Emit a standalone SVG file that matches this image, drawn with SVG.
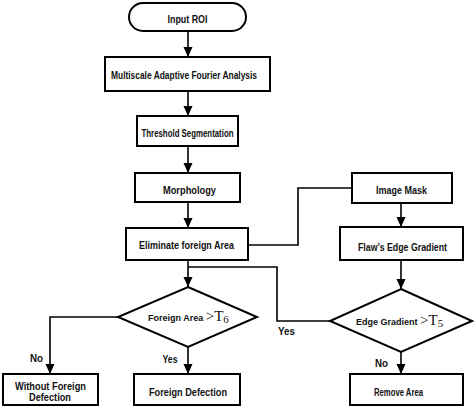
<svg xmlns="http://www.w3.org/2000/svg" width="474" height="407" viewBox="0 0 474 407">
<defs>
<marker id="arr" markerUnits="userSpaceOnUse" markerWidth="10" markerHeight="10" refX="10" refY="4.5" orient="auto">
<path d="M0,0 L10,4.5 L0,9 z" fill="#000"/>
</marker>
<style>
.box{fill:#fff;stroke:#000;stroke-width:2}
.ln{fill:none;stroke:#000;stroke-width:1.6}
.t{font-family:"Liberation Sans",Arial,sans-serif;font-weight:bold;font-size:10.5px;fill:#111;text-anchor:middle;dominant-baseline:central}
.lb{font-family:"Liberation Sans",Arial,sans-serif;font-weight:bold;font-size:10.5px;fill:#111;text-anchor:middle;dominant-baseline:central}
.d{font-family:"Liberation Sans",Arial,sans-serif;font-weight:bold;font-size:9px;fill:#111}
.s{font-family:"Liberation Serif","Times New Roman",serif;font-weight:normal;font-size:15px}
.sub{font-family:"Liberation Serif","Times New Roman",serif;font-weight:normal;font-size:11px}
</style>
</defs>
<rect width="474" height="407" fill="#fff"/>
<g id="connectors">
<path class="ln" d="M188,31 V57" marker-end="url(#arr)"/>
<path class="ln" d="M188,91 V116" marker-end="url(#arr)"/>
<path class="ln" d="M188,146 V173" marker-end="url(#arr)"/>
<path class="ln" d="M188,202 V228" marker-end="url(#arr)"/>
<path class="ln" d="M248,245 H298 V188 H352"/>
<path class="ln" d="M401,203 V227" marker-end="url(#arr)"/>
<path class="ln" d="M188,260 V287" marker-end="url(#arr)"/>
<path class="ln" d="M188,267 H277 V321 H330"/>
<path class="ln" d="M401,260 V289" marker-end="url(#arr)"/>
<path class="ln" d="M118,317 H50 V374" marker-end="url(#arr)"/>
<path class="ln" d="M188,347 V374" marker-end="url(#arr)"/>
<path class="ln" d="M401,352 V374" marker-end="url(#arr)"/>
<text class="lb" x="36.5" y="358" textLength="13" lengthAdjust="spacingAndGlyphs">No</text>
<text class="lb" x="170" y="359" textLength="15" lengthAdjust="spacingAndGlyphs">Yes</text>
<text class="lb" x="286.5" y="331" textLength="17" lengthAdjust="spacingAndGlyphs">Yes</text>
<text class="lb" x="381.5" y="363" textLength="13" lengthAdjust="spacingAndGlyphs">No</text>
</g>
<g id="input-roi">
<rect class="box" x="129" y="3" width="117" height="28" rx="14" ry="14"/>
<text class="t" x="187.5" y="19" textLength="40" lengthAdjust="spacingAndGlyphs">Input ROI</text>
</g>
<g id="mafa">
<rect class="box" x="105" y="57" width="165" height="34"/>
<text class="t" x="184" y="75" textLength="146" lengthAdjust="spacingAndGlyphs">Multiscale Adaptive Fourier Analysis</text>
</g>
<g id="threshold">
<rect class="box" x="137" y="116" width="101" height="30"/>
<text class="t" x="187.5" y="133" font-size="9.5" textLength="92" lengthAdjust="spacingAndGlyphs">Threshold  Segmentation</text>
</g>
<g id="morphology">
<rect class="box" x="135" y="173" width="105" height="29"/>
<text class="t" x="189.5" y="190" textLength="53" lengthAdjust="spacingAndGlyphs">Morphology</text>
</g>
<g id="eliminate">
<rect class="box" x="126" y="228" width="122" height="32"/>
<text class="t" x="186.5" y="245" textLength="95" lengthAdjust="spacingAndGlyphs">Eliminate foreign Area</text>
</g>
<g id="image-mask">
<rect class="box" x="352" y="173" width="100" height="30"/>
<text class="t" x="401.5" y="190" textLength="51" lengthAdjust="spacingAndGlyphs">Image Mask</text>
</g>
<g id="flaw-edge">
<rect class="box" x="340" y="227" width="123" height="33"/>
<text class="t" x="402.5" y="247" textLength="89" lengthAdjust="spacingAndGlyphs">Flaw’s Edge Gradient</text>
</g>
<g id="foreign-area-decision">
<polygon class="box" points="188,287 257,317 188,347 118,317"/>
<text class="d" x="148" y="321">Foreign Area <tspan class="s">&gt;T</tspan><tspan class="sub" dy="2">6</tspan></text>
</g>
<g id="edge-gradient-decision">
<polygon class="box" points="401,289 472,321 401,352 330,321"/>
<text class="d" x="356" y="325">Edge Gradient <tspan class="s">&gt;T</tspan><tspan class="sub" dy="2">5</tspan></text>
</g>
<g id="without-foreign">
<rect class="box" x="3" y="374" width="95" height="31"/>
<text class="t" x="50.5" y="385.5" textLength="71" lengthAdjust="spacingAndGlyphs">Without Foreign</text>
<text class="t" x="50" y="397" textLength="42" lengthAdjust="spacingAndGlyphs">Defection</text>
</g>
<g id="foreign-defection">
<rect class="box" x="134" y="374" width="106" height="31"/>
<text class="t" x="188" y="392" textLength="78" lengthAdjust="spacingAndGlyphs">Foreign Defection</text>
</g>
<g id="remove-area">
<rect class="box" x="350" y="374" width="113" height="31"/>
<text class="t" x="398.5" y="392" textLength="49" lengthAdjust="spacingAndGlyphs">Remove Area</text>
</g>
</svg>
